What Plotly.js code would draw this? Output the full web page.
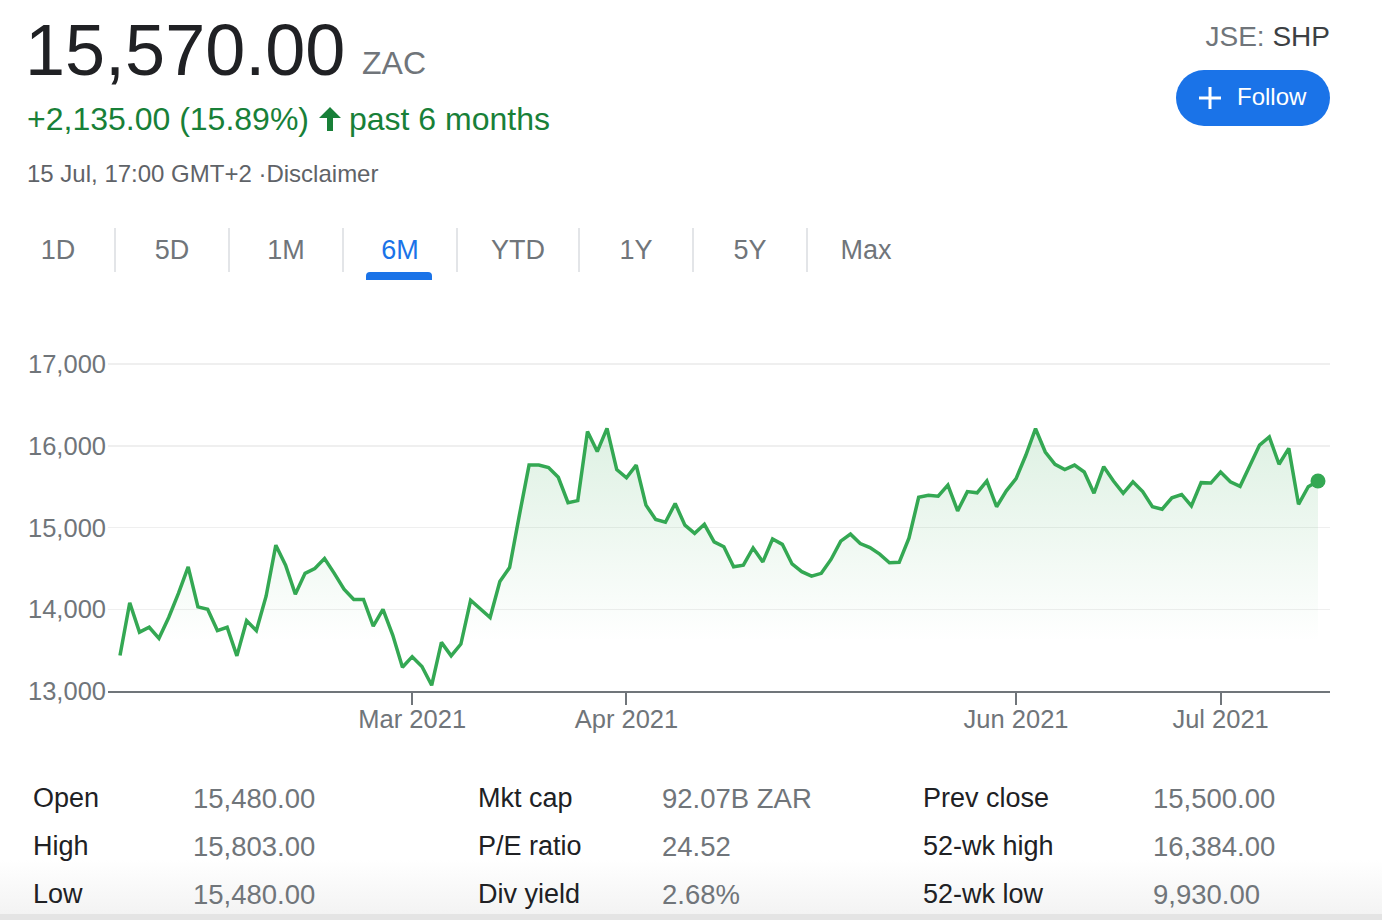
<!DOCTYPE html>
<html>
<head>
<meta charset="utf-8">
<script src="https://cdn.plot.ly/plotly-3.0.1.min.js"></script>
<style>
  html, body { margin:0; padding:0; width:1382px; height:920px; overflow:hidden; background:#fff;
    font-family:"Liberation Sans", Arial, sans-serif; }
  .t { position:absolute; line-height:1; white-space:nowrap; }
  .sep { position:absolute; top:228px; width:2px; height:44px; background:#e3e5e8; }
  .tab { position:absolute; width:100px; margin-left:-50px; text-align:center; font-size:27px; color:#70757a; line-height:1; top:237px; }
  .lbl { font-size:27px; color:#202124; }
  .val { font-size:27.5px; color:#70757a; }
  #chart { position:absolute; left:0; top:300px; width:1382px; height:460px; }
</style>
</head>
<body>
<div class="t" style="left:25px; top:14px; font-size:72px; color:#202124;">15,570.00</div>
<div class="t" style="left:362px; top:47px; font-size:32px; color:#70757a;">ZAC</div>
<div class="t" style="left:27px; top:103px; font-size:32px; color:#188038;">+2,135.00 (15.89%)<svg width="40" height="26" viewBox="0 0 40 26" style="vertical-align:-2px"><path d="M21 1 L32 12 L24 12 L24 25 L18 25 L18 12 L10 12 Z" fill="#188038"/></svg>past 6 months</div>
<div class="t" style="left:27px; top:162px; font-size:24px; color:#5f6368;">15 Jul, 17:00 GMT+2 ·Disclaimer</div>
<div class="t" style="right:52px; top:23px; font-size:28px; color:#70757a;">JSE: <span style="color:#3c4043">SHP</span></div>
<div style="position:absolute; left:1176px; top:70px; width:154px; height:56px; border-radius:28px; background:#1a73e8;">
  <svg width="26" height="26" viewBox="0 0 26 26" style="position:absolute; left:21px; top:15px;"><path d="M13 2 V24 M2 13 H24" stroke="#fff" stroke-width="3"/></svg>
  <div class="t" style="left:61px; top:15px; font-size:24px; color:#fff;">Follow</div>
</div>

<div class="tab" style="left:58px;">1D</div>
<div class="sep" style="left:114px;"></div>
<div class="tab" style="left:172px;">5D</div>
<div class="sep" style="left:228px;"></div>
<div class="tab" style="left:286px;">1M</div>
<div class="sep" style="left:342px;"></div>
<div class="tab" style="left:400px; color:#1a73e8;">6M</div>
<div class="sep" style="left:456px;"></div>
<div class="tab" style="left:518px;">YTD</div>
<div class="sep" style="left:578px;"></div>
<div class="tab" style="left:636px;">1Y</div>
<div class="sep" style="left:692px;"></div>
<div class="tab" style="left:750px;">5Y</div>
<div class="sep" style="left:806px;"></div>
<div class="tab" style="left:866px;">Max</div>
<div style="position:absolute; left:366px; top:272px; width:66px; height:8px; background:#1a73e8; border-radius:4px 4px 0 0;"></div>

<div id="chart"></div>

<div style="position:absolute; left:0; top:860px; width:1382px; height:54px; background:linear-gradient(rgba(240,240,240,0), #f3f3f3);"></div>
<div style="position:absolute; left:0; top:914px; width:1382px; height:6px; background:#e4e4e4;"></div>

<div class="t lbl" style="left:33px; top:785px;">Open</div>
<div class="t val" style="left:193px; top:785px;">15,480.00</div>
<div class="t lbl" style="left:478px; top:785px;">Mkt cap</div>
<div class="t val" style="left:662px; top:785px;">92.07B ZAR</div>
<div class="t lbl" style="left:923px; top:785px;">Prev close</div>
<div class="t val" style="left:1153px; top:785px;">15,500.00</div>

<div class="t lbl" style="left:33px; top:833px;">High</div>
<div class="t val" style="left:193px; top:833px;">15,803.00</div>
<div class="t lbl" style="left:478px; top:833px;">P/E ratio</div>
<div class="t val" style="left:662px; top:833px;">24.52</div>
<div class="t lbl" style="left:923px; top:833px;">52-wk high</div>
<div class="t val" style="left:1153px; top:833px;">16,384.00</div>

<div class="t lbl" style="left:33px; top:881px;">Low</div>
<div class="t val" style="left:193px; top:881px;">15,480.00</div>
<div class="t lbl" style="left:478px; top:881px;">Div yield</div>
<div class="t val" style="left:662px; top:881px;">2.68%</div>
<div class="t lbl" style="left:923px; top:881px;">52-wk low</div>
<div class="t val" style="left:1153px; top:881px;">9,930.00</div>

<script>
// Trading session range and JSE holidays (categories)
const firstDay = "2021-01-18";
const lastDay = "2021-07-15";
const holidays = ["2021-03-22", "2021-04-02", "2021-04-05", "2021-04-27", "2021-06-16"];

// Closing prices (ZAC), one per trading day
const prices = [
  13435, 14080, 13720, 13780, 13645, 13900, 14195, 14520, 14030, 14000,
  13740, 13780, 13430, 13860, 13740, 14160, 14785, 14540, 14185, 14440,
  14500, 14620, 14440, 14245, 14120, 14120, 13795, 14000, 13685, 13290,
  13420, 13300, 13070, 13595, 13430, 13575, 14110, 14010, 13900, 14340,
  14510, 15150, 15765, 15765, 15735, 15615, 15305, 15330, 16175, 15930,
  16215, 15710, 15610, 15765, 15275, 15100, 15065, 15295, 15030, 14930,
  15040, 14825, 14765, 14520, 14540, 14750, 14580, 14860, 14795, 14555,
  14460, 14405, 14440, 14610, 14835, 14920, 14805, 14755, 14675, 14570,
  14575, 14870, 15370, 15395, 15385, 15520, 15205, 15440, 15425, 15570,
  15255, 15450, 15600, 15885, 16210, 15925, 15775, 15710, 15765, 15680,
  15420, 15745, 15570, 15420, 15560, 15440, 15255, 15225, 15365, 15405,
  15265, 15550, 15545, 15680, 15560, 15505, 15765, 16010, 16110, 15775,
  15970, 15285, 15500, 15570
];

const xTickDates = ["2021-03-01", "2021-04-01", "2021-06-01", "2021-07-01"];
const xTickLabels = ["Mar 2021", "Apr 2021", "Jun 2021", "Jul 2021"];
const yTickVals = [13000, 14000, 15000, 16000, 17000];
const yTickLabels = ["13,000", "14,000", "15,000", "16,000", "17,000"];

function tradingDays(a, b, hol) {
  const out = [];
  const d = new Date(a + "T00:00:00Z");
  const end = new Date(b + "T00:00:00Z");
  while (d <= end) {
    const s = d.toISOString().slice(0, 10);
    const wd = d.getUTCDay();
    if (wd !== 0 && wd !== 6 && hol.indexOf(s) < 0) out.push(s);
    d.setUTCDate(d.getUTCDate() + 1);
  }
  return out;
}
const dates = tradingDays(firstDay, lastDay, holidays);
const n = prices.length;

const green = "#34a853";
const traces = [
  {
    x: dates.slice(0, n), y: prices, type: "scatter", mode: "lines",
    line: { color: green, width: 3.5 },
    fill: "tozeroy",
    fillgradient: { type: "vertical", start: 13600, stop: 16300,
      colorscale: [[0, "rgba(52,168,83,0)"], [1, "rgba(52,168,83,0.17)"]] },
    hoverinfo: "skip"
  },
  {
    x: [dates[n - 1]], y: [prices[n - 1]], type: "scatter", mode: "markers",
    marker: { color: green, size: 15 }, hoverinfo: "skip"
  }
];

const layout = {
  width: 1382, height: 460,
  margin: { l: 108, r: 52, t: 56, b: 69 },
  paper_bgcolor: "rgba(0,0,0,0)", plot_bgcolor: "rgba(0,0,0,0)",
  showlegend: false,
  font: { family: "Liberation Sans, Arial, sans-serif", color: "#70757a", size: 26 },
  xaxis: {
    type: "category",
    range: [-1.232, n - 1 + 1.232],
    tickvals: xTickDates, ticktext: xTickLabels,
    showgrid: false, zeroline: false,
    showline: true, linecolor: "#70757a", linewidth: 2,
    ticks: "outside", ticklen: 12, tickwidth: 2, tickcolor: "#70757a",
    ticklabelstandoff: -8,
    tickfont: { size: 25.5, color: "#70757a" }
  },
  yaxis: {
    range: [13000, 17100],
    tickvals: yTickVals, ticktext: yTickLabels,
    showgrid: true, gridcolor: "#efefef", gridwidth: 1.5,
    zeroline: false, showline: false, ticks: "",
    ticklabelstandoff: 1,
    tickfont: { size: 25.5, color: "#70757a" }
  }
};

Plotly.newPlot("chart", traces, layout, { staticPlot: true, displayModeBar: false });
</script>
</body>
</html>
